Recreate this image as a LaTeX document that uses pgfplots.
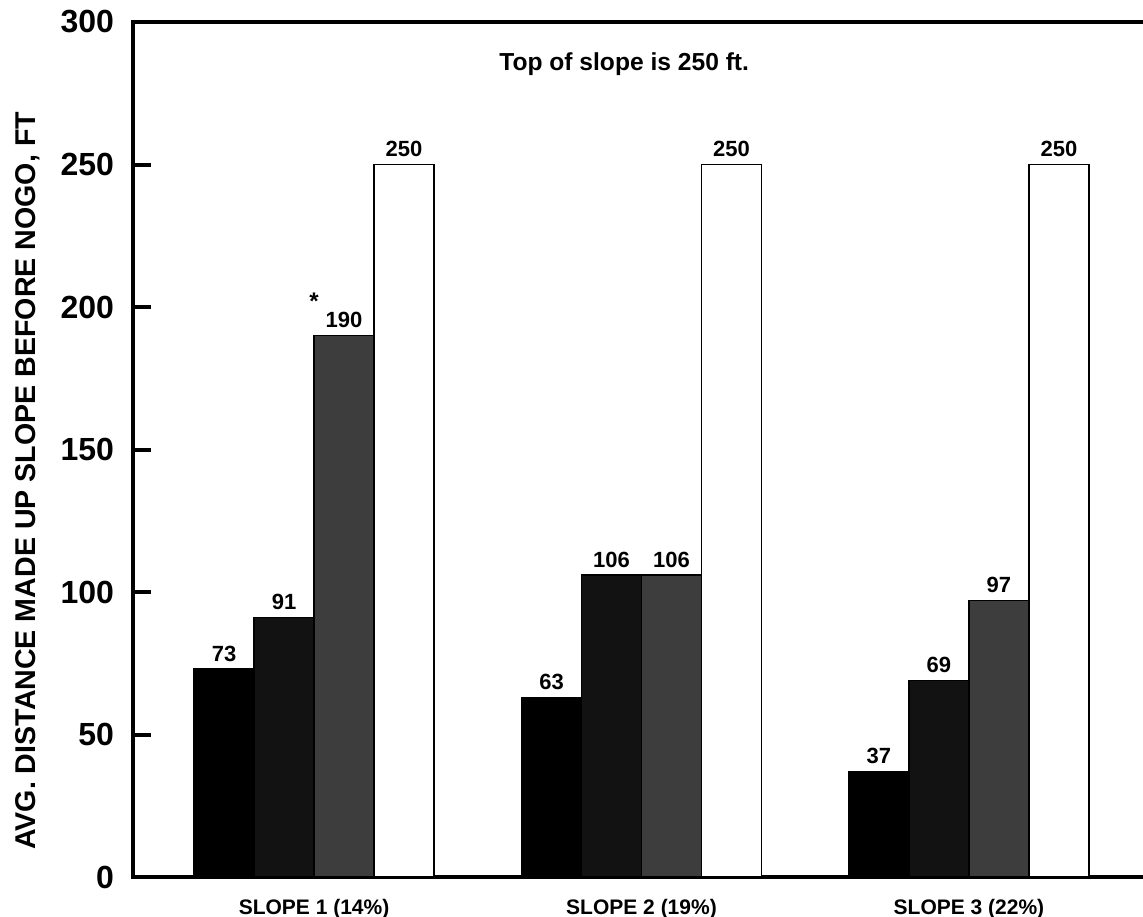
\documentclass[border=0pt]{standalone}
\usepackage{fontspec}
\setmainfont{Liberation Sans}
\usepackage{pgfplots}
\pgfplotsset{compat=1.18}
\begin{document}
\begin{tikzpicture}
\useasboundingbox (-66.5pt,-19.5pt) rectangle (505pt,438.5pt);
\begin{axis}[
  at={(0,0)}, anchor=south west,
  scale only axis, width=508pt, height=427.5pt,
  xmin=-0.553, xmax=2.550, ymin=0, ymax=300,
  ytick={0,50,100,150,200,250,300},
  xtick={0,1,2},
  xticklabels={SLOPE 1 (14\%),SLOPE 2 (19\%),SLOPE 3 (22\%)},
  tick pos=left, tick align=inside,
  axis line style={line width=2.2pt},
  ytick style={line width=2pt, black},
  major tick length=9pt,
  xtick style={draw=none},
  ybar=0pt, bar width=0.1832,
  /pgf/number format/assume math mode=true,
  yticklabel style={font=\fontsize{16}{16}\selectfont\bfseries, xshift=-6pt},
  xticklabel style={font=\fontsize{10.5}{10.5}\selectfont\bfseries, yshift=1.5pt},
  nodes near coords,
  every node near coord/.append style={font=\fontsize{11}{11}\selectfont\bfseries, black},
  clip=false,
]
\addplot[fill=black, draw=black, line width=0.8pt] coordinates {(0,73) (1,63) (2,37)};
\addplot[fill=black!93, draw=black, line width=0.8pt] coordinates {(0,91) (1,106) (2,69)};
\addplot[fill=black!76, draw=black, line width=0.8pt] coordinates {(0,190) (1,106) (2,97)};
\addplot[fill=white, draw=black, line width=0.8pt] coordinates {(0,250) (1,250) (2,250)};
\node[font=\fontsize{12.3}{12.3}\selectfont\bfseries] at (axis cs:0.947,285.3) {Top of slope is 250 ft.};
\node[font=\fontsize{12}{12}\selectfont\bfseries, yshift=-3pt] at (axis cs:0,204) {*};
\node[rotate=90, font=\fontsize{14.3}{14.3}\selectfont\bfseries] at (axis cs:-0.873,139) {AVG. DISTANCE MADE UP SLOPE BEFORE NOGO, FT};
\end{axis}
\end{tikzpicture}
\end{document}
